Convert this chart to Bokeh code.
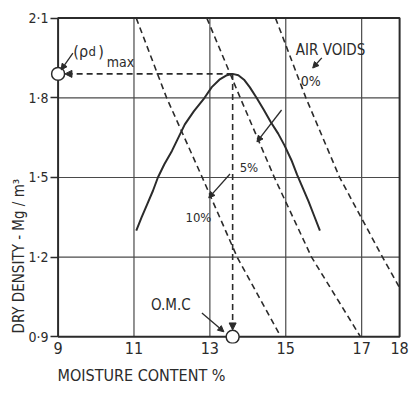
from bokeh.plotting import figure
from bokeh.models import FixedTicker, Label, Arrow, NormalHead, Range1d, Title
from bokeh.embed import file_html
from bokeh.resources import INLINE

# Axis ticks
moisture_ticks = [9, 11, 13, 15, 17, 18]
density_ticks = [0.9, 1.2, 1.5, 1.8, 2.1]
density_tick_labels = ["0·9", "1·2", "1·5", "1·8", "2·1"]

# Compaction curve: moisture content (%) vs dry density (Mg/m3)
curve_moisture = [11.06, 11.2, 11.35, 11.5, 11.63, 11.8, 12.0, 12.17, 12.34, 12.58, 12.86,
                  13.05, 13.25, 13.45, 13.6, 13.75, 13.9, 14.05, 14.23, 14.42, 14.6, 14.8,
                  14.97, 15.15, 15.3, 15.45, 15.6, 15.75, 15.9]
curve_density = [1.30, 1.35, 1.40, 1.45, 1.50, 1.55, 1.60, 1.65, 1.70, 1.75, 1.80,
                 1.84, 1.868, 1.885, 1.89, 1.885, 1.868, 1.84, 1.80, 1.755, 1.71, 1.665,
                 1.62, 1.565, 1.51, 1.46, 1.41, 1.355, 1.30]

# Optimum point
omc = 13.6
rho_d_max = 1.89

# Air-voids lines
av_density = [2.1, 1.8, 1.5, 1.2, 0.9]
av10_moisture = [11.06, 11.86, 12.8, 13.72, 14.87]
av5_moisture = [12.92, 13.8, 14.7, 15.68, 16.97]
av0_density = [2.1, 1.8, 1.5, 1.2, 1.085]
av0_moisture = [14.73, 15.53, 16.42, 17.55, 18.0]

INK = "#2b2b2b"
FONT = "DejaVu Sans Condensed, DejaVu Sans"
X0, X1 = moisture_ticks[0], moisture_ticks[-1]
Y0, Y1 = density_ticks[0], density_ticks[-1]

# The ranges run a little past the drawn frame so the axis markers show in full
p = figure(width=409, height=394, output_backend="svg", toolbar_location=None,
           x_range=Range1d(8.8, 18.05), y_range=Range1d(0.875, 2.106),
           min_border_left=50, min_border_right=8, min_border_top=16, min_border_bottom=51)
p.background_fill_color = "white"
p.border_fill_color = "white"
p.outline_line_color = None
p.xgrid.grid_line_color = None
p.ygrid.grid_line_color = None

p.xaxis.ticker = FixedTicker(ticks=moisture_ticks)
p.yaxis.ticker = FixedTicker(ticks=density_ticks)
p.yaxis.major_label_overrides = dict(zip(density_ticks, density_tick_labels))
for ax in (p.xaxis, p.yaxis):
    ax.axis_line_color = None
    ax.minor_tick_line_color = None
    ax.major_label_text_font = FONT
    ax.major_label_text_color = INK
p.xaxis.major_tick_line_color = None
p.xaxis.major_tick_out = 0
p.xaxis.major_label_standoff = -2
p.xaxis.major_label_text_font_size = "16px"
p.yaxis.major_tick_line_color = INK
p.yaxis.major_tick_line_width = 1.5
p.yaxis.major_tick_out = 0
p.yaxis.major_tick_in = 8
p.yaxis.major_label_standoff = 2
p.yaxis.major_label_text_font_size = "14px"

# Axis titles, set from the start of each axis
p.add_layout(Title(text="MOISTURE CONTENT %", align="left", offset=7, standoff=14,
                   text_font=FONT, text_font_size="16px", text_font_style="normal",
                   text_color=INK), "below")
p.add_layout(Title(text="DRY DENSITY - Mg / m³", align="left", offset=10, standoff=-4,
                   text_font=FONT, text_font_size="15px", text_font_style="normal",
                   text_color=INK), "left")

# Grid lines inside the frame
inner_x = moisture_ticks[1:-1]
inner_y = density_ticks[1:-1]
p.segment(x0=inner_x, y0=[Y0] * len(inner_x), x1=inner_x, y1=[Y1] * len(inner_x),
          line_color="#4a4a4a", line_width=1.2)
p.segment(x0=[X0] * len(inner_y), y0=inner_y, x1=[X1] * len(inner_y), y1=inner_y,
          line_color="#4a4a4a", line_width=1.2)

# Frame
p.line([X0, X1, X1, X0, X0], [Y0, Y0, Y1, Y1, Y0], line_color=INK, line_width=2)

# Air-voids lines
for xs, ys in ((av10_moisture, av_density), (av5_moisture, av_density), (av0_moisture, av0_density)):
    p.line(xs, ys, line_color=INK, line_width=1.6, line_dash="6 4")

# Compaction curve
p.line(curve_moisture, curve_density, line_color=INK, line_width=2)

# Markers on the axes for the optimum
p.scatter([X0, omc], [rho_d_max, Y0], marker="circle", size=13,
          fill_color="white", line_color=INK, line_width=1.5)

# Dashed projections from the peak to the axes
head = dict(size=7, fill_color=INK, line_color=INK)
p.add_layout(Arrow(end=NormalHead(**head), x_start=omc, y_start=rho_d_max,
                   x_end=9.18, y_end=rho_d_max, line_color=INK, line_width=1.6, line_dash="6 4"))
p.add_layout(Arrow(end=NormalHead(**head), x_start=omc, y_start=rho_d_max,
                   x_end=omc, y_end=0.926, line_color=INK, line_width=1.6, line_dash="6 4"))

# Label pointers
for xs, ys, xe, ye in ((9.39, 1.968, 9.08, 1.905),
                       (15.95, 1.95, 15.71, 1.912),
                       (14.89, 1.754, 14.24, 1.634),
                       (13.53, 1.513, 12.97, 1.423),
                       (12.79, 0.99, 13.37, 0.919)):
    p.add_layout(Arrow(end=NormalHead(size=6, fill_color=INK, line_color=INK),
                       x_start=xs, y_start=ys, x_end=xe, y_end=ye,
                       line_color=INK, line_width=1.3))

def label(x, y, text, size, align="center", baseline="middle"):
    p.add_layout(Label(x=x, y=y, text=text, text_font=FONT, text_font_size=size,
                       text_color=INK, text_align=align, text_baseline=baseline))

label(9.40, 1.975, "(ρ", "16px", align="left", baseline="alphabetic")
label(9.80, 1.975, "d", "13px", align="left", baseline="alphabetic")
label(10.06, 1.975, ")", "16px", align="left", baseline="alphabetic")
label(10.28, 1.935, "max", "14px", align="left", baseline="alphabetic")

label(16.18, 1.98, "AIR VOIDS", "15px")
label(15.66, 1.863, "0%", "14px")
label(14.03, 1.536, "5%", "13px")
label(12.70, 1.351, "10%", "13px")
label(11.97, 1.02, "O.M.C", "15px")

open("out.html", "w").write(file_html(p, INLINE))
